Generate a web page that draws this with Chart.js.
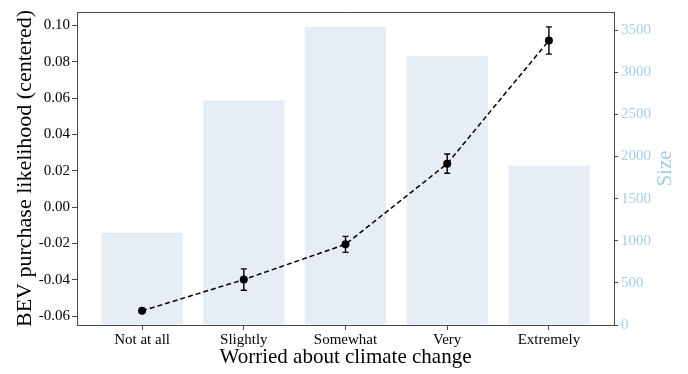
<!DOCTYPE html>
<html>
<head>
<meta charset="utf-8">
<script src="https://cdn.jsdelivr.net/npm/chart.js@4.4.1/dist/chart.umd.min.js"></script>
<style>
  html, body { margin: 0; padding: 0; background: #ffffff; }
  #c { display: block; }
</style>
</head>
<body>
<canvas id="c" width="688" height="374"></canvas>
<script>
// ---- data ----
const categories = ["Not at all", "Slightly", "Somewhat", "Very", "Extremely"];
const likelihood = [-0.0571, -0.0399, -0.0205, 0.0239, 0.0917];
const likelihoodErr = [0.0006, 0.0059, 0.0044, 0.0053, 0.0075];
const sizes = [1095, 2665, 3538, 3196, 1890];
const leftTicks = [-0.06, -0.04, -0.02, 0.00, 0.02, 0.04, 0.06, 0.08, 0.10];
const rightTicks = [0, 500, 1000, 1500, 2000, 2500, 3000, 3500];
const rightTitle = 'Size';

const serif = "'Liberation Serif', 'DejaVu Serif', serif";
const spine = '#4a4a4a';
const lightBlue = '#a6cee3';

const errorBars = {
  id: 'errorBars',
  afterDatasetsDraw(chart) {
    const meta = chart.getDatasetMeta(0);
    const ys = chart.scales.y;
    const ctx = chart.ctx;
    ctx.save();
    ctx.strokeStyle = '#000';
    ctx.lineWidth = 1.4;
    meta.data.forEach((pt, i) => {
      const x = pt.x;
      const yTop = ys.getPixelForValue(likelihood[i] + likelihoodErr[i]);
      const yBot = ys.getPixelForValue(likelihood[i] - likelihoodErr[i]);
      ctx.beginPath();
      ctx.moveTo(x, yTop); ctx.lineTo(x, yBot);
      ctx.moveTo(x - 3, yTop); ctx.lineTo(x + 3, yTop);
      ctx.moveTo(x - 3, yBot); ctx.lineTo(x + 3, yBot);
      ctx.stroke();
    });
    ctx.restore();
  }
};

const frameAndTitle = {
  id: 'frameAndTitle',
  afterDraw(chart) {
    const a = chart.chartArea;
    const ctx = chart.ctx;
    ctx.save();
    ctx.strokeStyle = spine;
    ctx.lineWidth = 1;
    ctx.beginPath();
    ctx.moveTo(a.left, a.top + 0.5);
    ctx.lineTo(a.right, a.top + 0.5);
    ctx.stroke();
    // right axis title, reading bottom-to-top like the reference
    const s = chart.scales.y2;
    ctx.translate(s.right - 23, (a.top + a.bottom) / 2);
    ctx.rotate(-Math.PI / 2);
    ctx.fillStyle = lightBlue;
    ctx.font = "21px " + serif;
    ctx.textAlign = 'center';
    ctx.textBaseline = 'middle';
    ctx.fillText(rightTitle, 0, 0);
    ctx.restore();
  }
};

new Chart(document.getElementById('c'), {
  data: {
    datasets: [
      {
        type: 'line',
        label: 'likelihood',
        data: likelihood.map((v, i) => ({ x: i, y: v })),
        yAxisID: 'y',
        borderColor: '#000',
        backgroundColor: '#000',
        borderWidth: 1.5,
        borderDash: [5, 3],
        pointRadius: 4,
        pointBackgroundColor: '#000',
        pointBorderWidth: 0,
        tension: 0,
        order: 0
      },
      {
        type: 'bar',
        label: 'Size',
        data: sizes.map((v, i) => ({ x: i, y: v })),
        yAxisID: 'y2',
        backgroundColor: '#e6edf5',
        borderWidth: 0,
        barPercentage: 0.8,
        categoryPercentage: 1.0,
        order: 1
      }
    ]
  },
  options: {
    responsive: false,
    animation: false,
    devicePixelRatio: 1,
    layout: { padding: { top: 10, left: 0, right: 0, bottom: 0 } },
    plugins: { legend: { display: false }, tooltip: { enabled: false } },
    scales: {
      x: {
        type: 'linear',
        position: 'bottom',
        offset: false,
        min: -0.64,
        max: 4.64,
        afterFit(s) { s.height = 49; },
        afterBuildTicks(s) { s.ticks = categories.map((c, i) => ({ value: i })); },
        ticks: {
          autoSkip: false,
          maxRotation: 0,
          color: '#000',
          padding: 1,
          font: { family: serif, size: 15 },
          callback: (v) => categories[v]
        },
        grid: { offset: false, drawOnChartArea: false, tickLength: 5, color: spine },
        border: { display: true, color: spine, width: 1 },
        title: {
          display: true,
          text: 'Worried about climate change',
          color: '#000',
          font: { family: serif, size: 21 },
          padding: { top: 0, bottom: 4 }
        }
      },
      y: {
        type: 'linear',
        position: 'left',
        min: -0.0649,
        max: 0.1074,
        afterFit(s) { s.width = 77; },
        afterBuildTicks(s) { s.ticks = leftTicks.map(v => ({ value: v })); },
        ticks: {
          color: '#000',
          padding: 2,
          font: { family: serif, size: 15 },
          callback: (v) => v.toFixed(2)
        },
        grid: { drawOnChartArea: false, tickLength: 5, color: spine },
        border: { display: true, color: spine, width: 1 },
        title: {
          display: true,
          text: 'BEV purchase likelihood (centered)',
          color: '#000',
          font: { family: serif, size: 22 },
          padding: { top: 12, bottom: 0 }
        }
      },
      y2: {
        type: 'linear',
        position: 'right',
        min: 0,
        max: 3716,
        afterFit(s) { s.width = 74; },
        afterBuildTicks(s) { s.ticks = rightTicks.map(v => ({ value: v })); },
        ticks: {
          color: lightBlue,
          padding: 3,
          font: { family: serif, size: 15 },
          callback: (v) => String(v)
        },
        grid: { drawOnChartArea: false, tickLength: 4, color: spine },
        border: { display: true, color: spine, width: 1 },
        title: { display: false }
      }
    }
  },
  plugins: [errorBars, frameAndTitle]
});
</script>
</body>
</html>
